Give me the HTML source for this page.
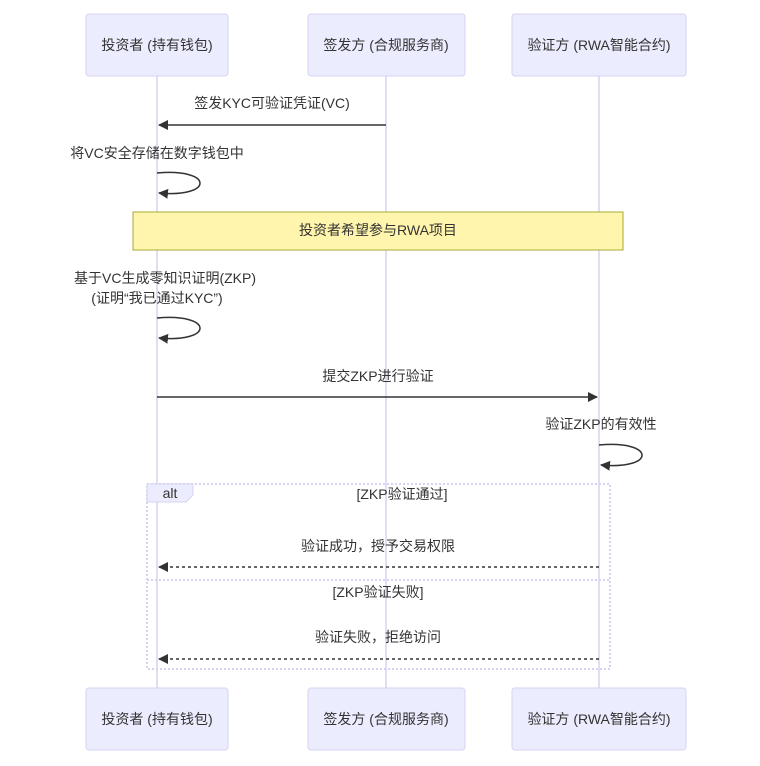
<!DOCTYPE html>
<html><head><meta charset="utf-8"><style>
html,body{margin:0;padding:0;background:#fff}
svg{display:block}
text{font-family:"Liberation Sans","Noto Sans CJK SC",sans-serif;font-size:14px;fill:#333}
</style></head><body>
<svg width="760" height="766" viewBox="0 0 760 766" xmlns="http://www.w3.org/2000/svg">
<defs>
<marker id="a" viewBox="0 0 10 10" refX="9" refY="5" markerWidth="10" markerHeight="10" markerUnits="userSpaceOnUse" orient="auto"><path d="M0,0 L10,5 L0,10 z" fill="#333"/></marker>
</defs>
<g stroke="#d6d3f0" stroke-width="1.5">
<line x1="157" y1="76" x2="157" y2="688"/>
<line x1="386" y1="76" x2="386" y2="688"/>
<line x1="599" y1="76" x2="599" y2="688"/>
</g>
<g fill="#ececff" stroke="#d6d3f0">
<rect x="86" y="14" width="142" height="62" rx="3"/>
<rect x="308" y="14" width="157" height="62" rx="3"/>
<rect x="512" y="14" width="174" height="62" rx="3"/>
<rect x="86" y="688" width="142" height="62" rx="3"/>
<rect x="308" y="688" width="157" height="62" rx="3"/>
<rect x="512" y="688" width="174" height="62" rx="3"/>
</g>
<g text-anchor="middle">
<text x="157" y="50">投资者 (持有钱包)</text>
<text x="386" y="50">签发方 (合规服务商)</text>
<text x="599" y="50">验证方 (RWA智能合约)</text>
<text x="157" y="724">投资者 (持有钱包)</text>
<text x="386" y="724">签发方 (合规服务商)</text>
<text x="599" y="724">验证方 (RWA智能合约)</text>
<text x="272" y="108">签发KYC可验证凭证(VC)</text>
<text x="157" y="158">将VC安全存储在数字钱包中</text>
<text x="165" y="283">基于VC生成零知识证明(ZKP)</text>
<text x="157" y="303">(证明“我已通过KYC”)</text>
<text x="378" y="381">提交ZKP进行验证</text>
<text x="601" y="429">验证ZKP的有效性</text>
<text x="402" y="499">[ZKP验证通过]</text>
<text x="378" y="551">验证成功，授予交易权限</text>
<text x="378" y="597">[ZKP验证失败]</text>
<text x="378" y="642">验证失败，拒绝访问</text>
</g>
<g stroke="#333" stroke-width="1.5" fill="none">
<line x1="386" y1="125" x2="159" y2="125" marker-end="url(#a)"/>
<path d="M157,173 C214,168 214,198 159,193" marker-end="url(#a)"/>
<path d="M157,318 C214,313 214,343 159,338" marker-end="url(#a)"/>
<line x1="157" y1="397" x2="597" y2="397" marker-end="url(#a)"/>
<path d="M599,445 C656,440 656,470 601,465" marker-end="url(#a)"/>
<line x1="599" y1="567" x2="159" y2="567" stroke-dasharray="3,3" marker-end="url(#a)"/>
<line x1="599" y1="659" x2="159" y2="659" stroke-dasharray="3,3" marker-end="url(#a)"/>
</g>
<rect x="133" y="212" width="490" height="38" fill="#fff5ad" stroke="#aaaa33"/>
<text x="378" y="235" text-anchor="middle">投资者希望参与RWA项目</text>
<g stroke="#d6d3f0" stroke-width="2" stroke-dasharray="2,2" fill="none">
<rect x="147" y="484" width="463" height="185"/>
<line x1="147" y1="580" x2="610" y2="580"/>
</g>
<path d="M147,484 L193,484 L193,495 L186,502 L147,502 z" fill="#ececff" stroke="#d6d3f0"/>
<text x="170" y="498" text-anchor="middle">alt</text>
</svg>
</body></html>
